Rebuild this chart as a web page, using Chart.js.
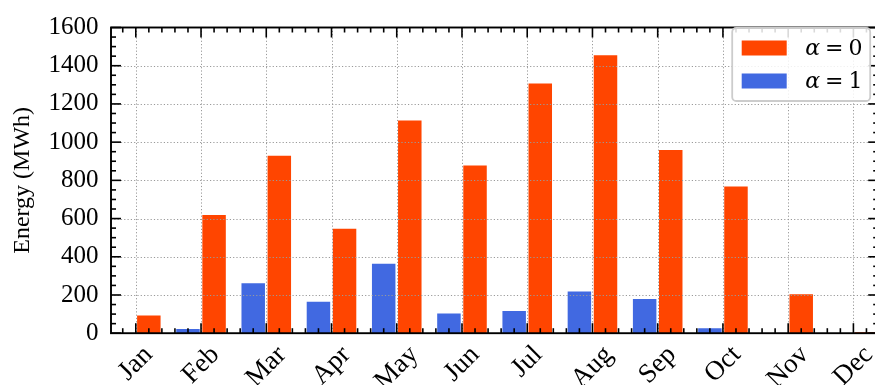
<!DOCTYPE html>
<html><head><meta charset="utf-8">
<script src="https://cdn.jsdelivr.net/npm/chart.js@4.4.1/dist/chart.umd.min.js"></script>
<style>
html,body{margin:0;padding:0;background:#fff;overflow:hidden;width:875px;height:385px}
#wrap{position:relative;width:885px;height:385px}
</style>
</head><body>
<div id="wrap"><canvas id="c" width="885" height="385"></canvas></div>
<script>
// ---- data ----
const months = ['Jan','Feb','Mar','Apr','May','Jun','Jul','Aug','Sep','Oct','Nov','Dec'];
const alpha0 = [93, 618, 929, 547, 1113, 878, 1307, 1455, 959, 768, 204, 5];
const alpha1 = [0, 22, 261, 164, 363, 103, 116, 218, 179, 26, 0, 0];
const seriesNames = ['\u03B1 = 0', '\u03B1 = 1'];
const yTicks = [0, 200, 400, 600, 800, 1000, 1200, 1400, 1600];
const yTitle = 'Energy (MWh)';

const ORANGE = '#FF4500', BLUE = '#4169E1';
const SERIF = '"Liberation Serif", "Times New Roman", serif';

function line(ctx, x1, y1, x2, y2){ ctx.beginPath(); ctx.moveTo(x1,y1); ctx.lineTo(x2,y2); ctx.stroke(); }

const framePlugin = {
  id: 'frame',
  afterDraw(chart){
    const {ctx, chartArea: a, scales: {x, y}} = chart;
    ctx.save();
    // dotted grid (drawn above bars, like matplotlib default)
    ctx.strokeStyle = '#9a9a9a'; ctx.lineWidth = 1; ctx.setLineDash([1.2, 2.1]);
    months.forEach((m, i) => { const px = Math.round(x.getPixelForValue(i)) + 0.5; line(ctx, px, a.top, px, a.bottom); });
    yTicks.forEach(v => { if (v === yTicks[0] || v === yTicks[yTicks.length-1]) return; const py = Math.round(y.getPixelForValue(v)) + 0.5; line(ctx, a.left, py, a.right, py); });
    ctx.setLineDash([]);
    // ticks, inward on all four sides
    ctx.strokeStyle = '#000'; ctx.lineWidth = 1.6;
    const majL = 10, minL = 5;
    for (let k = Math.ceil(x.min / 0.2); k * 0.2 <= x.max + 1e-9; k++) {
      const v = k * 0.2; const isMaj = Math.abs(v - Math.round(v)) < 1e-6;
      const px = x.getPixelForValue(v); const L = isMaj ? majL : minL;
      line(ctx, px, a.bottom, px, a.bottom - L); line(ctx, px, a.top, px, a.top + L);
    }
    for (let v = y.min; v <= y.max; v += 50) {
      const isMaj = v % 200 === 0; const py = y.getPixelForValue(v); const L = isMaj ? majL : minL;
      line(ctx, a.left, py, a.left + L, py); line(ctx, a.right, py, a.right - L, py);
    }
    // spines
    ctx.lineWidth = 1.9;
    ctx.strokeRect(a.left, a.top, a.right - a.left, a.bottom - a.top);
    // x tick labels, rotated 45 deg, bbox centred on tick
    ctx.fillStyle = '#000'; ctx.font = '27px ' + SERIF;
    const th = 45 * Math.PI / 180;
    months.forEach((m, i) => {
      const px = x.getPixelForValue(i);
      const w = ctx.measureText(m).width, h = 27 * 0.9;
      const hb = (w * Math.sin(th) + h * Math.cos(th)) / 2;
      ctx.save(); ctx.translate(px, a.bottom + 9 + hb); ctx.rotate(-th);
      ctx.textAlign = 'center'; ctx.textBaseline = 'middle'; ctx.fillText(m, 0, 0); ctx.restore();
    });
    // legend
    const bw = 138, bh = 73, bx = a.right - 8 - bw, by = a.top + 0.5, r = 4;
    ctx.beginPath();
    ctx.moveTo(bx + r, by); ctx.lineTo(bx + bw - r, by); ctx.arcTo(bx + bw, by, bx + bw, by + r, r);
    ctx.lineTo(bx + bw, by + bh - r); ctx.arcTo(bx + bw, by + bh, bx + bw - r, by + bh, r);
    ctx.lineTo(bx + r, by + bh); ctx.arcTo(bx, by + bh, bx, by + bh - r, r);
    ctx.lineTo(bx, by + r); ctx.arcTo(bx, by, bx + r, by, r); ctx.closePath();
    ctx.fillStyle = 'rgba(255,255,255,0.85)'; ctx.fill();
    ctx.strokeStyle = '#cccccc'; ctx.lineWidth = 1.8; ctx.stroke();
    const entries = [{name: seriesNames[0], color: ORANGE}, {name: seriesNames[1], color: BLUE}];
    entries.forEach((e, k) => {
      const cy = by + 20 + k * 33;
      ctx.fillStyle = e.color; ctx.fillRect(bx + 9.5, cy - 7.5, 45, 15);
      ctx.fillStyle = '#000';
      const parts = e.name.split(' ');
      let tx = bx + 73;
      ctx.textBaseline = 'alphabetic'; ctx.textAlign = 'left';
      ctx.font = 'italic 22px "DejaVu Serif"'; ctx.fillText(parts[0], tx, cy + 7);
      tx += ctx.measureText(parts[0]).width + 5;
      ctx.font = '22px "DejaVu Serif"'; ctx.fillText(parts[1], tx, cy + 7);
      tx += ctx.measureText(parts[1]).width + 5;
      ctx.fillText(parts[2], tx, cy + 7);
    });
    ctx.restore();
  }
};

new Chart(document.getElementById('c'), {
  type: 'bar',
  data: {
    datasets: [
      {label: seriesNames[1], data: alpha1.map((v, i) => ({x: i, y: v})), backgroundColor: BLUE, borderWidth: 0},
      {label: seriesNames[0], data: alpha0.map((v, i) => ({x: i, y: v})), backgroundColor: ORANGE, borderWidth: 0}
    ]
  },
  options: {
    responsive: false, animation: false, devicePixelRatio: 1,
    layout: {padding: {left: 0, right: 6.8, top: 19.5, bottom: 51.8}},
    datasets: {bar: {categoryPercentage: 0.8, barPercentage: 0.9}},
    plugins: {legend: {display: false}, tooltip: {enabled: false}},
    scales: {
      x: {type: 'linear', display: false, min: -0.38, max: 11.38, offset: false,
          ticks: {stepSize: 1, includeBounds: false},
          afterBuildTicks: s => { s.ticks = months.map((m, i) => ({value: i})); }},
      y: {type: 'linear', min: 0, max: 1600,
          afterBuildTicks: s => { s.ticks = yTicks.map(v => ({value: v})); },
          grid: {display: false, drawTicks: false}, border: {display: false},
          ticks: {font: {family: SERIF, size: 25}, color: '#000', padding: 12.5, callback: v => String(v)},
          title: {display: true, text: yTitle, color: '#000', font: {family: SERIF, size: 24}, padding: {top: 8.5, bottom: 0}},
          afterFit: s => { s.width = 111; }}
    }
  },
  plugins: [framePlugin]
});
</script>
</body></html>
